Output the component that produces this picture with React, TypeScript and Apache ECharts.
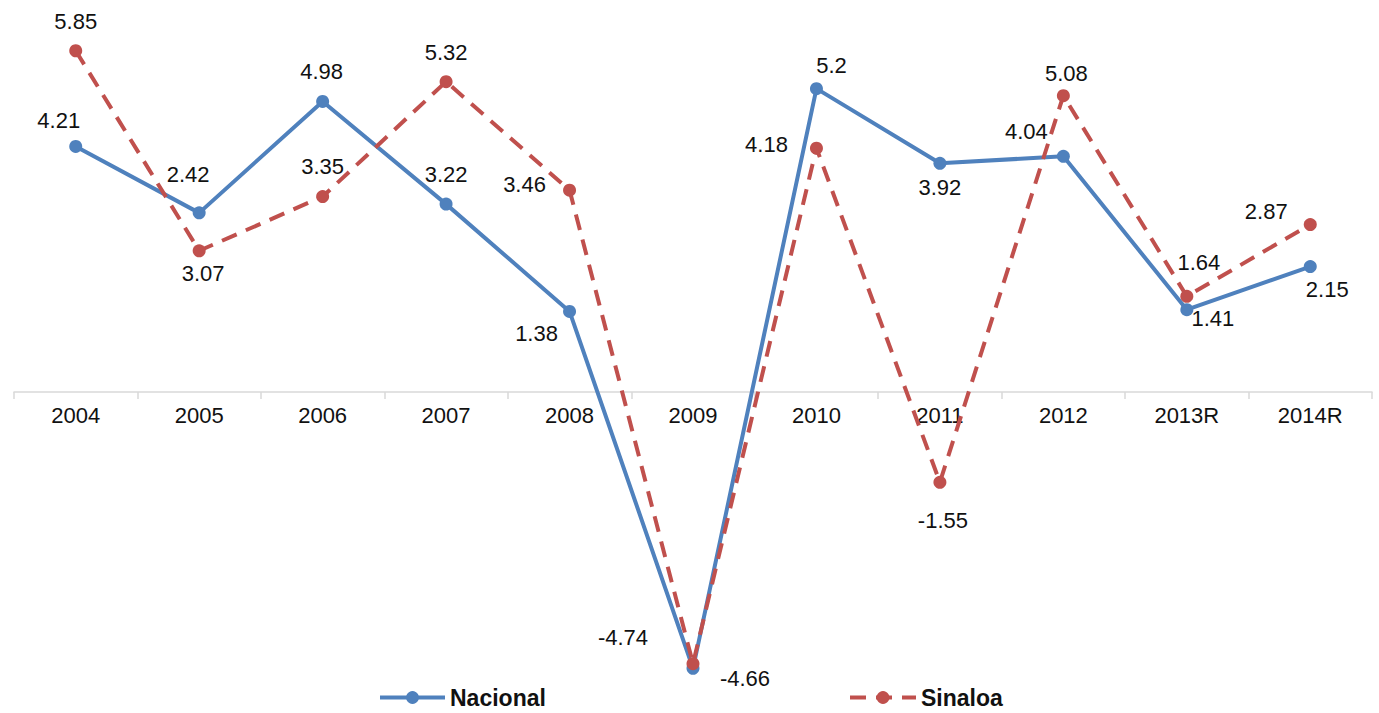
import React, { useEffect, useRef } from "react";
import * as echarts from "echarts";

const categories = ["2004", "2005", "2006", "2007", "2008", "2009", "2010", "2011", "2012", "2013R", "2014R"];
// values as plotted in the picture (positions of the points)
const nacional = [4.21, 3.07, 4.98, 3.22, 1.38, -4.74, 5.2, 3.92, 4.04, 1.41, 2.15];
const sinaloa = [5.85, 2.42, 3.35, 5.32, 3.46, -4.66, 4.18, -1.55, 5.08, 1.64, 2.87];
// texts printed beside the points
const nacionalLabels = ["4.21", "2.42", "4.98", "3.22", "1.38", "-4.74", "5.2", "3.92", "4.04", "1.41", "2.15"];
const sinaloaLabels = ["5.85", "3.07", "3.35", "5.32", "3.46", "-4.66", "4.18", "-1.55", "5.08", "1.64", "2.87"];

// label offsets (pixels, relative to the point) - styling only
const nacionalLabelOffsets: [number, number][] = [
  [-17, -26], [-11, -38], [-1, -30], [0, -30], [-33, 22], [-70, -31],
  [15, -23], [0, 24], [-37, -25], [26, 9], [17, 23],
];
const sinaloaLabelOffsets: [number, number][] = [
  [0, -29], [4, 23], [0, -30], [0, -29], [-45, -6], [52, 15],
  [-50, -4], [3, 38], [3, -22], [12, -34], [-44, -13],
];

const BLUE = "#4f81bd";
const RED = "#c0504d";
const FONT = "'Liberation Sans', Arial, sans-serif";

export default function App() {
  const ref = useRef<HTMLDivElement>(null);

  useEffect(() => {
    if (!ref.current) return;
    const chart = echarts.init(ref.current, null, { renderer: "svg" });

    const H = 713;
    const gridTop = 42;
    const gridBottom = 29.5;
    const yMin = -5;
    const yMax = 6;
    const plotH = H - gridTop - gridBottom;
    const zeroOffset = -(plotH * (0 - yMin)) / (yMax - yMin);

    const mkData = (vals: number[], texts: string[], offs: [number, number][]) =>
      vals.map((v, i) => ({
        value: v,
        label: { offset: offs[i], formatter: texts[i] },
      }));

    const labelBase = {
      show: true,
      position: "inside",
      color: "#111",
      fontSize: 22,
      fontFamily: FONT,
    };

    const legendText = { fontSize: 23, fontWeight: "bold", color: "#111", fontFamily: FONT };

    chart.setOption({
      animation: false,
      backgroundColor: "#ffffff",
      grid: { left: 14, right: 7, top: gridTop, bottom: gridBottom, containLabel: false },
      legend: [
        {
          data: ["Nacional"],
          left: 373,
          top: 681,
          itemWidth: 65,
          itemHeight: 16,
          lineStyle: { width: 4 },
          textStyle: legendText,
        },
        {
          data: ["Sinaloa"],
          left: 843,
          top: 681,
          itemWidth: 66,
          itemHeight: 16,
          lineStyle: { width: 4 },
          textStyle: legendText,
        },
      ],
      xAxis: {
        type: "category",
        data: categories,
        boundaryGap: true,
        position: "bottom",
        offset: zeroOffset,
        axisLine: { onZero: false, lineStyle: { color: "#d9d9d9", width: 1.5 } },
        axisTick: { show: true, alignWithLabel: false, length: 7, lineStyle: { color: "#d9d9d9", width: 1.5 } },
        axisLabel: { color: "#111", fontSize: 22, fontFamily: FONT, margin: 13 },
        splitLine: { show: false },
      },
      yAxis: {
        type: "value",
        min: yMin,
        max: yMax,
        show: false,
        splitLine: { show: false },
      },
      series: [
        {
          name: "Nacional",
          type: "line",
          data: mkData(nacional, nacionalLabels, nacionalLabelOffsets),
          symbol: "circle",
          symbolSize: 13,
          itemStyle: { color: BLUE },
          lineStyle: { color: BLUE, width: 4, type: "solid" },
          label: labelBase,
          z: 2,
        },
        {
          name: "Sinaloa",
          type: "line",
          data: mkData(sinaloa, sinaloaLabels, sinaloaLabelOffsets),
          symbol: "circle",
          symbolSize: 13,
          itemStyle: { color: RED },
          lineStyle: { color: RED, width: 4, type: [16, 10] },
          label: labelBase,
          z: 3,
        },
      ],
    });

    return () => chart.dispose();
  }, []);

  return (
    <div
      ref={ref}
      style={{ position: "fixed", left: 0, top: 0, width: 1379, height: 713, background: "#fff" }}
    />
  );
}
